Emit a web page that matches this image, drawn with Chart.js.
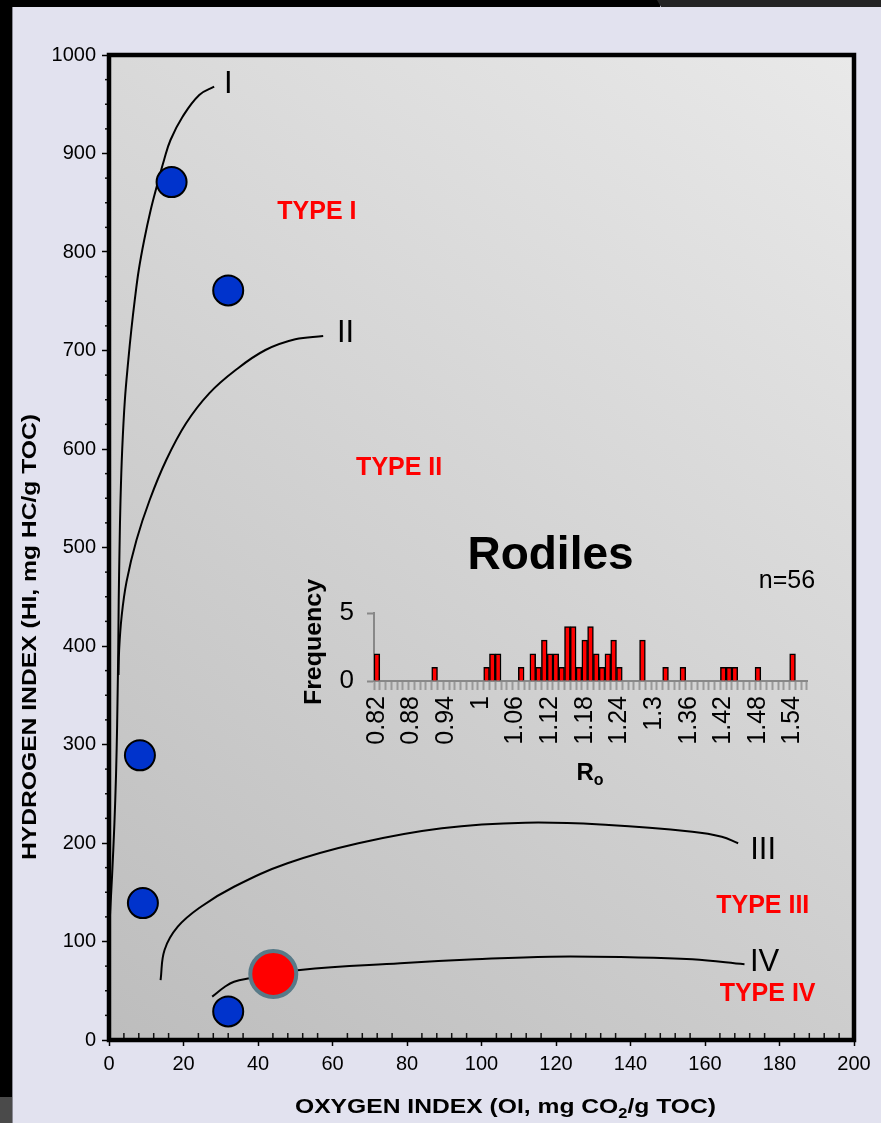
<!DOCTYPE html>
<html><head><meta charset="utf-8">
<script src="https://cdn.jsdelivr.net/npm/chart.js@4/dist/chart.umd.min.js"></script>
<style>
html,body{margin:0;padding:0;background:#e2e2ef;}
#wrap{position:relative;width:881px;height:1123px;overflow:hidden;background:#e2e2ef;}
.deco{position:absolute;}
#main{position:absolute;left:0;top:0;}
#inset{position:absolute;left:290px;top:520px;}
</style></head><body>
<div id="wrap">
<div class="deco" style="left:0;top:0;width:660px;height:7px;background:#000"></div>
<div class="deco" style="left:652px;top:0;width:229px;height:7px;background:#242424;clip-path:polygon(5px 0,100% 0,100% 100%,9px 100%)"></div>
<div class="deco" style="left:0;top:0;width:12px;height:1123px;background:#000"></div>
<div class="deco" style="left:12px;top:7px;width:1px;height:1116px;background:#8a8a94"></div>
<div class="deco" style="left:0;top:1097px;width:12px;height:26px;background:#4a4a4a"></div>
<canvas id="main" width="881" height="1123"></canvas>
<canvas id="inset" width="560" height="290"></canvas>
</div>
<script>
// ---------- DATA ----------
const blueOI = [16.8, 32.0, 8.3, 9.1, 32.0];
const blueHI = [871, 761, 289, 139, 29];
const redOI = [44.1];
const redHI = [67];

const curveI_OI  = [-1.2, -0.19, 0.48, 1.15, 1.68, 2.05, 2.29, 2.48, 2.61, 2.82, 3.09, 3.54, 4.26, 5.19, 5.99, 6.92, 7.99, 9.45, 11.19, 12.78, 14.78, 16.51, 19.71, 24.23, 28.23];
const curveI_HI  = [73.1, 101.5, 142.1, 192.9, 243.7, 294.4, 345.2, 395.9, 446.7, 497.5, 548.2, 599.0, 649.7, 690.4, 720.8, 751.3, 781.7, 812.2, 842.6, 866.0, 893.4, 913.7, 937.1, 959.4, 967.8];
const curveII_OI = [2.56, 2.72, 3.38, 4.71, 7.38, 10.92, 15.37, 20.69, 26.9, 34.0, 42.0, 50.0, 57.5];
const curveII_HI = [370.6, 395.9, 429.7, 465.3, 507.6, 548.2, 588.8, 626.1, 656.5, 680.2, 700.5, 711.4, 714.7];
const curveIII_OI = [13.85, 14.91, 18.46, 24.69, 33.56, 47.91, 66.95, 89.37, 111.8, 134.2, 156.6, 164.5, 168.9];
const curveIII_HI = [60.9, 91.4, 115.0, 135.3, 155.6, 179.4, 199.7, 214.9, 220.6, 218.3, 211.5, 206.4, 199.7];
const curveIV_OI = [27.7, 31.1, 33.56, 37.8, 51.3, 78.2, 98.3, 118.5, 139.8, 156.6, 170.6];
const curveIV_HI = [44.0, 54.1, 59.2, 62.6, 71.1, 77.9, 81.9, 84.6, 84.0, 81.9, 76.9];

const oiTickStep = 4;   // minor tick spacing, labels every 20
const hiTickStep = 25;  // minor tick spacing, labels every 100

const roCategories = [0.82,0.83,0.84,0.85,0.86,0.87,0.88,0.89,0.9,0.91,0.92,0.93,0.94,0.95,0.96,0.97,0.98,0.99,
  1,1.01,1.02,1.03,1.04,1.05,1.06,1.07,1.08,1.09,1.1,1.11,1.12,1.13,1.14,1.15,1.16,1.17,1.18,1.19,
  1.2,1.21,1.22,1.23,1.24,1.25,1.26,1.27,1.28,1.29,1.3,1.31,1.32,1.33,1.34,1.35,1.36,1.37,1.38,1.39,
  1.4,1.41,1.42,1.43,1.44,1.45,1.46,1.47,1.48,1.49,1.5,1.51,1.52,1.53,1.54,1.55,1.56];
const roFrequency = [2,0,0,0,0,0,0,0,0,0,
  1,0,0,0,0,0,0,0,0,1,
  2,2,0,0,0,1,0,2,1,3,
  2,2,1,4,4,1,3,4,2,1,
  2,3,1,0,0,0,3,0,0,0,
  1,0,0,1,0,0,0,0,0,0,
  1,1,1,0,0,0,1,0,0,0,
  0,0,2,0,0];
const roLabelEvery = 6;

// annotation texts (positions in data units of the main chart)
const curveNames = ['I', 'II', 'III', 'IV'];
const curveNameOI = [32.0, 63.5, 175.6, 176.0];
const curveNameHI = [970.6, 717.5, 192.9, 79.2];
const typeNames = ['TYPE I', 'TYPE II', 'TYPE III', 'TYPE IV'];
const typeNameOI = [55.8, 77.9, 175.5, 176.8];
const typeNameHI = [840.1, 580.7, 136, 46.7];

// ---------- HELPERS ----------
const FAM = "'Liberation Sans', Arial, Helvetica, sans-serif";
Chart.defaults.font.family = FAM;
const pts = (xs, ys) => xs.map((x, i) => ({x: x, y: ys[i]}));

function drawParts(ctx, parts, cx, cy, rot, size, bold, sx) {
  ctx.save();
  ctx.translate(cx, cy);
  ctx.rotate(rot);
  ctx.scale(sx, 1);
  const w = bold ? 'bold ' : '';
  let total = 0;
  parts.forEach(p => {
    ctx.font = w + (p.sub ? Math.round(size * 0.68) : size) + 'px ' + FAM;
    p.w = ctx.measureText(p.t).width; total += p.w;
  });
  let x = -total / 2;
  ctx.textBaseline = 'middle';
  ctx.textAlign = 'left';
  ctx.fillStyle = '#000';
  parts.forEach(p => {
    ctx.font = w + (p.sub ? Math.round(size * 0.68) : size) + 'px ' + FAM;
    ctx.fillText(p.t, x, p.sub ? size * 0.32 : 0);
    x += p.w;
  });
  ctx.restore();
}

const bgPlugin = {
  id: 'bg',
  beforeDatasetsDraw(chart) {
    const a = chart.chartArea, ctx = chart.ctx;
    const g = ctx.createLinearGradient(a.left, a.bottom, a.right, a.top);
    g.addColorStop(0, '#bdbdbd');
    g.addColorStop(1, '#e9e9e9');
    ctx.save();
    ctx.fillStyle = g;
    ctx.fillRect(a.left, a.top, a.right - a.left, a.bottom - a.top);
    ctx.restore();
  }
};

const framePlugin = {
  id: 'frame',
  afterDraw(chart) {
    const a = chart.chartArea, ctx = chart.ctx;
    const xs = chart.scales.x, ys = chart.scales.y;
    ctx.save();
    ctx.strokeStyle = '#111'; ctx.lineWidth = 1.5;
    xs.ticks.forEach(t => {
      if (t.value % 20 !== 0) {
        const px = xs.getPixelForValue(t.value);
        ctx.beginPath(); ctx.moveTo(px, a.bottom - 7); ctx.lineTo(px, a.bottom); ctx.stroke();
      }
    });
    ys.ticks.forEach(t => {
      if (t.value % 100 !== 0) {
        const py = ys.getPixelForValue(t.value);
        ctx.beginPath(); ctx.moveTo(a.left - 4, py); ctx.lineTo(a.left, py); ctx.stroke();
      }
    });
    ctx.strokeStyle = '#000'; ctx.lineWidth = 4.5;
    ctx.strokeRect(a.left, a.top, a.right - a.left, a.bottom - a.top);
    ctx.fillStyle = '#000';
    ctx.textAlign = 'center'; ctx.textBaseline = 'middle';
    ctx.font = '31px ' + FAM;
    curveNames.forEach((n, i) => ctx.fillText(n, xs.getPixelForValue(curveNameOI[i]), ys.getPixelForValue(curveNameHI[i])));
    ctx.fillStyle = '#ff0000';
    ctx.font = 'bold 25px ' + FAM;
    typeNames.forEach((n, i) => ctx.fillText(n, xs.getPixelForValue(typeNameOI[i]), ys.getPixelForValue(typeNameHI[i])));
    ctx.restore();
    ctx.save();
    const xParts = [{t: 'OXYGEN INDEX (OI, mg CO'}, {t: '2', sub: true}, {t: '/g TOC)'}];
    let nat = 0;
    xParts.forEach(p => { ctx.font = 'bold ' + (p.sub ? 14 : 21) + 'px ' + FAM; nat += ctx.measureText(p.t).width; });
    ctx.restore();
    const sx = 421 / nat;
    drawParts(ctx, xParts, 505.5, 1107, 0, 21, true, sx);
    drawParts(ctx, [{t: 'HYDROGEN INDEX (HI, mg HC/g TOC)'}], 30, 637, -Math.PI / 2, 21, true, sx);
  }
};

const curveStyle = {showLine: true, pointRadius: 0, pointHoverRadius: 0, borderColor: '#000', borderWidth: 2,
                    tension: 0.4};

new Chart(document.getElementById('main'), {
  type: 'scatter',
  data: {
    datasets: [
      {label: 'Rodiles', data: pts(redOI, redHI), pointRadius: 23, pointHoverRadius: 23,
       backgroundColor: '#ff0000', borderColor: '#587a88', borderWidth: 4},
      {label: 'Samples', data: pts(blueOI, blueHI), pointRadius: 15, pointHoverRadius: 15,
       backgroundColor: '#0033cc', borderColor: '#000', borderWidth: 2},
      Object.assign({label: 'I', data: pts(curveI_OI, curveI_HI), clip: false}, curveStyle),
      Object.assign({label: 'II', data: pts(curveII_OI, curveII_HI)}, curveStyle),
      Object.assign({label: 'III', data: pts(curveIII_OI, curveIII_HI)}, curveStyle),
      Object.assign({label: 'IV', data: pts(curveIV_OI, curveIV_HI)}, curveStyle)
    ]
  },
  options: {
    responsive: false, animation: false,
    plugins: {legend: {display: false}, tooltip: {enabled: false}},
    layout: {padding: {top: 55, right: 21, left: 0, bottom: 0}},
    scales: {
      x: {
        type: 'linear', min: 0, max: 200,
        afterFit(s) { s.height = 83; },
        ticks: {stepSize: oiTickStep, autoSkip: false, maxRotation: 0, color: '#000', font: {size: 20}, padding: 6,
                callback: v => (v % 20 === 0 ? String(v) : '')},
        grid: {drawOnChartArea: false, tickLength: 6, tickWidth: 1.5,
               tickColor: c => (c.tick && c.tick.value % 20 === 0 ? '#000' : 'rgba(0,0,0,0)')},
        border: {display: false}
      },
      y: {
        type: 'linear', min: 0, max: 1000,
        afterFit(s) { s.width = 109; },
        ticks: {stepSize: hiTickStep, autoSkip: false, color: '#000', font: {size: 20}, padding: 6,
                callback: v => (v % 100 === 0 ? String(v) : '')},
        grid: {drawOnChartArea: false, tickLength: 7, tickWidth: 1.5,
               tickColor: c => (c.tick && c.tick.value % 100 === 0 ? '#000' : 'rgba(0,0,0,0)')},
        border: {display: false}
      }
    }
  },
  plugins: [bgPlugin, framePlugin]
});

// ---------- INSET ----------
const insetText = {
  id: 'insetText',
  afterDraw(chart) {
    const ctx = chart.ctx;
    ctx.save();
    ctx.fillStyle = '#000';
    ctx.textAlign = 'center'; ctx.textBaseline = 'middle';
    ctx.font = 'bold 46px ' + FAM;
    ctx.fillText('Rodiles', 260.5, 36);
    ctx.font = '25px ' + FAM;
    ctx.fillText('n=56', 497, 61);
    ctx.restore();
    drawParts(ctx, [{t: 'Frequency'}], 24, 122, -Math.PI / 2, 24, true, 1.04);
    drawParts(ctx, [{t: 'R'}, {t: 'o', sub: true}], 300, 253, 0, 24, true, 1);
  }
};

new Chart(document.getElementById('inset'), {
  type: 'bar',
  data: {
    labels: roCategories,
    datasets: [{data: roFrequency, backgroundColor: '#ff0000', borderColor: '#000', borderWidth: 1.5,
                barPercentage: 1, categoryPercentage: 1}]
  },
  options: {
    responsive: false, animation: false,
    plugins: {legend: {display: false}, tooltip: {enabled: false}},
    layout: {padding: {top: 93, right: 43, left: 0, bottom: 0}},
    scales: {
      x: {
        afterFit(s) { s.height = 129; },
        ticks: {autoSkip: false, minRotation: 90, maxRotation: 90, color: '#000', font: {size: 25}, padding: 6,
                callback(v, i) { return i % roLabelEvery === 0 ? String(this.getLabelForValue(v)) : ''; }},
        grid: {drawOnChartArea: false, tickLength: 9, tickColor: '#999', tickWidth: 2, offset: true},
        border: {color: '#888', width: 2}
      },
      y: {
        min: 0, max: 5,
        afterFit(s) { s.width = 84; },
        ticks: {stepSize: 5, color: '#000', font: {size: 26}, padding: 13},
        grid: {drawOnChartArea: false, tickLength: 7, tickColor: '#888', tickWidth: 2},
        border: {color: '#888', width: 2}
      }
    }
  },
  plugins: [insetText]
});
</script>
</body></html>
